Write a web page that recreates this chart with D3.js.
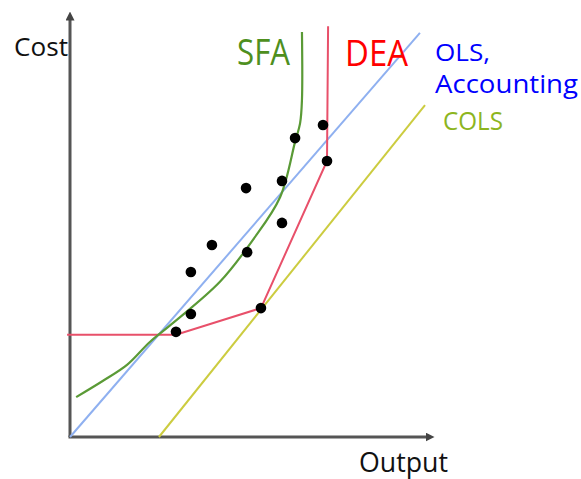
<!DOCTYPE html>
<html>
<head>
<meta charset="utf-8">
<script src="https://cdn.jsdelivr.net/npm/d3@7"></script>
<style>
  html, body { margin: 0; padding: 0; background: #fff; }
  svg text { font-family: "Open Sans", "DejaVu Sans", sans-serif; }
</style>
</head>
<body>
<div id="js-chart"></div>
<script>
// 数据 (output, cost) 0-100
var points = [
    [62.0, 70.5], [69.7, 73.6], [48.5, 58.7], [58.4, 60.4], [70.8, 65.1],
    [39.1, 45.3], [58.4, 50.5], [48.8, 43.6], [33.3, 38.9], [33.3, 29.0],
    [29.2, 24.8], [52.6, 30.4]
];
var olsLine = [[0, 0], [96.4, 95.3]];
var colsLine = [[24.5, 0], [97.8, 78.3]];
var deaLine = [[-0.8, 24.1], [29.2, 24.1], [52.6, 30.4], [70.8, 65.1], [71.1, 96.9]];
var sfaLine = [
    [1.7, 9.4], [9.0, 13.2], [15.7, 17.0], [22.0, 22.4], [28.4, 26.9], [41.3, 36.6],
    [50.4, 46.5], [57.9, 56.6], [62.0, 69.6], [63.4, 74.1], [63.9, 79.5], [63.9, 95.5]
];

var width = 581, height = 479;

var svg = d3.select("#js-chart").append("svg")
    .attr("width", width)
    .attr("height", height);

var x = d3.scaleLinear().domain([0, 100]).range([70, 433]);
var y = d3.scaleLinear().domain([0, 100]).range([437, 13]);

// 箭头
var defs = svg.append("defs");
defs.append("marker")
    .attr("id", "arrow")
    .attr("viewBox", "0 0 10 10")
    .attr("refX", 5).attr("refY", 5)
    .attr("markerWidth", 3).attr("markerHeight", 3)
    .attr("orient", "auto")
    .append("path")
    .attr("d", "M0,0L10,5L0,10Z")
    .attr("fill", "#444");

// 坐标轴
svg.append("line")
    .attr("x1", x(0)).attr("y1", y(0))
    .attr("x2", x(0)).attr("y2", y(100) + 3)
    .attr("stroke", "#555").attr("stroke-width", 3)
    .attr("marker-end", "url(#arrow)");
svg.append("line")
    .attr("x1", x(0) - 1.5).attr("y1", y(0))
    .attr("x2", x(100) - 3).attr("y2", y(0))
    .attr("stroke", "#555").attr("stroke-width", 3)
    .attr("marker-end", "url(#arrow)");

var line = d3.line().x(function (d) { return x(d[0]); }).y(function (d) { return y(d[1]); });

svg.append("path").datum(olsLine)
    .attr("d", line).attr("fill", "none")
    .attr("stroke", "#8fb0f0").attr("stroke-width", 2);

svg.append("path").datum(colsLine)
    .attr("d", line).attr("fill", "none")
    .attr("stroke", "#cccc40").attr("stroke-width", 2);

svg.append("path").datum(deaLine)
    .attr("d", line).attr("fill", "none")
    .attr("stroke", "#e8506a").attr("stroke-width", 2);

svg.append("path").datum(sfaLine)
    .attr("d", line.curve(d3.curveCatmullRom.alpha(0.5)))
    .attr("fill", "none")
    .attr("stroke", "#5a9a36").attr("stroke-width", 2.2);

svg.selectAll(".dot").data(points).enter().append("circle")
    .attr("class", "dot")
    .attr("cx", function (d) { return x(d[0]); })
    .attr("cy", function (d) { return y(d[1]); })
    .attr("r", 5.3)
    .attr("fill", "#000");

// 文字
var labels = [
    {t: "Cost", x: 14, y: 56, s: 26, w: 54, c: "#111"},
    {t: "SFA", x: 237, y: 65, s: 37, w: 53, c: "#4e8f1e"},
    {t: "DEA", x: 345, y: 66, s: 36, w: 63, c: "#ff0000"},
    {t: "OLS,", x: 435, y: 61, s: 24, w: 55, c: "#0000ff"},
    {t: "Accounting", x: 435, y: 93, s: 25, w: 143, c: "#0000ff"},
    {t: "COLS", x: 443, y: 130, s: 25, w: 60, c: "#8db51e"},
    {t: "Output", x: 359, y: 472, s: 27, w: 89, c: "#111"}
];
svg.selectAll(".lab").data(labels).enter().append("text")
    .attr("class", "lab")
    .attr("x", function (d) { return d.x; })
    .attr("y", function (d) { return d.y; })
    .attr("font-size", function (d) { return d.s; })
    .attr("textLength", function (d) { return d.w; })
    .attr("lengthAdjust", "spacingAndGlyphs")
    .attr("fill", function (d) { return d.c; })
    .text(function (d) { return d.t; });
</script>
</body>
</html>
